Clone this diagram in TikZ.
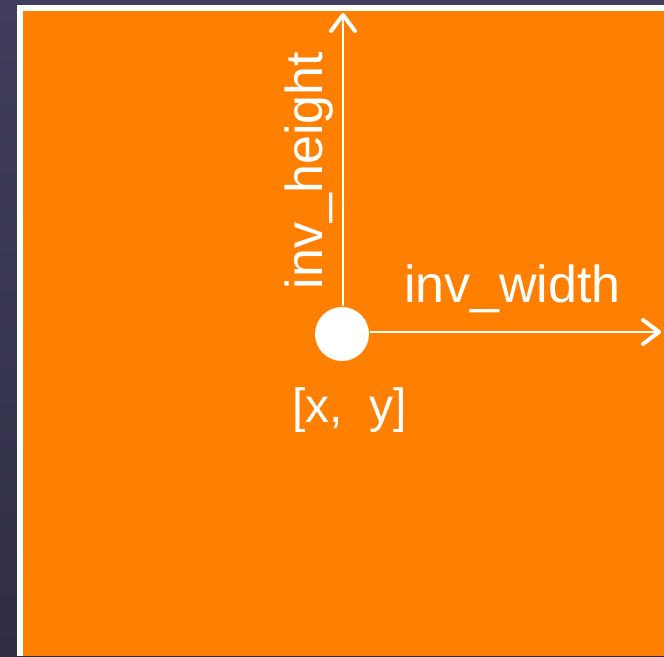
\documentclass[tikz,border=0pt]{standalone}
\usepackage{fontspec}
\setmainfont{Liberation Sans}
\usetikzlibrary{arrows.meta}
\definecolor{bgtop}{RGB}{64,62,92}
\definecolor{bgbottom}{RGB}{47,46,69}
\definecolor{sheet}{RGB}{255,127,0}
\tikzset{
  dot/.style={circle,fill=white,inner sep=0pt,minimum size=54pt},
  axislabel/.style={text=white,inner sep=0pt,font=\fontsize{52}{62}\selectfont},
  pointlabel/.style={text=white,inner sep=0pt,font=\fontsize{48}{58}\selectfont},
}

\begin{document}
\begin{tikzpicture}[x=1pt,y=-1pt,line width=2pt,draw=white,
  >={Straight Barb[length=16pt,width=24pt,line width=4pt,round]}]
\useasboundingbox (0,0) rectangle (664,656);
% slide background and frame
\shade[top color=bgtop,bottom color=bgbottom] (0,0) rectangle (664,656);
\fill[white] (17,5) rectangle (664,656);
\fill[sheet] (23,11) rectangle (664,656);
% origin point and the two extents
\node[dot] (origin) at (342,334) {};
\coordinate (top) at (343,13);
\coordinate (right) at (661,332);
\draw[->] (origin.north -| top) -- (top);
\draw[->] (origin.east |- right) -- (right);
% labels
\node[axislabel,anchor=base west] (wlabel) at (403,302) {inv\_width};
\node[axislabel,rotate=90,anchor=base west] (hlabel) at (322,290) {inv\_height};
\node[pointlabel,anchor=base west] (xylabel) at (291,422) {[x,\ \ y]};
\end{tikzpicture}
\end{document}
